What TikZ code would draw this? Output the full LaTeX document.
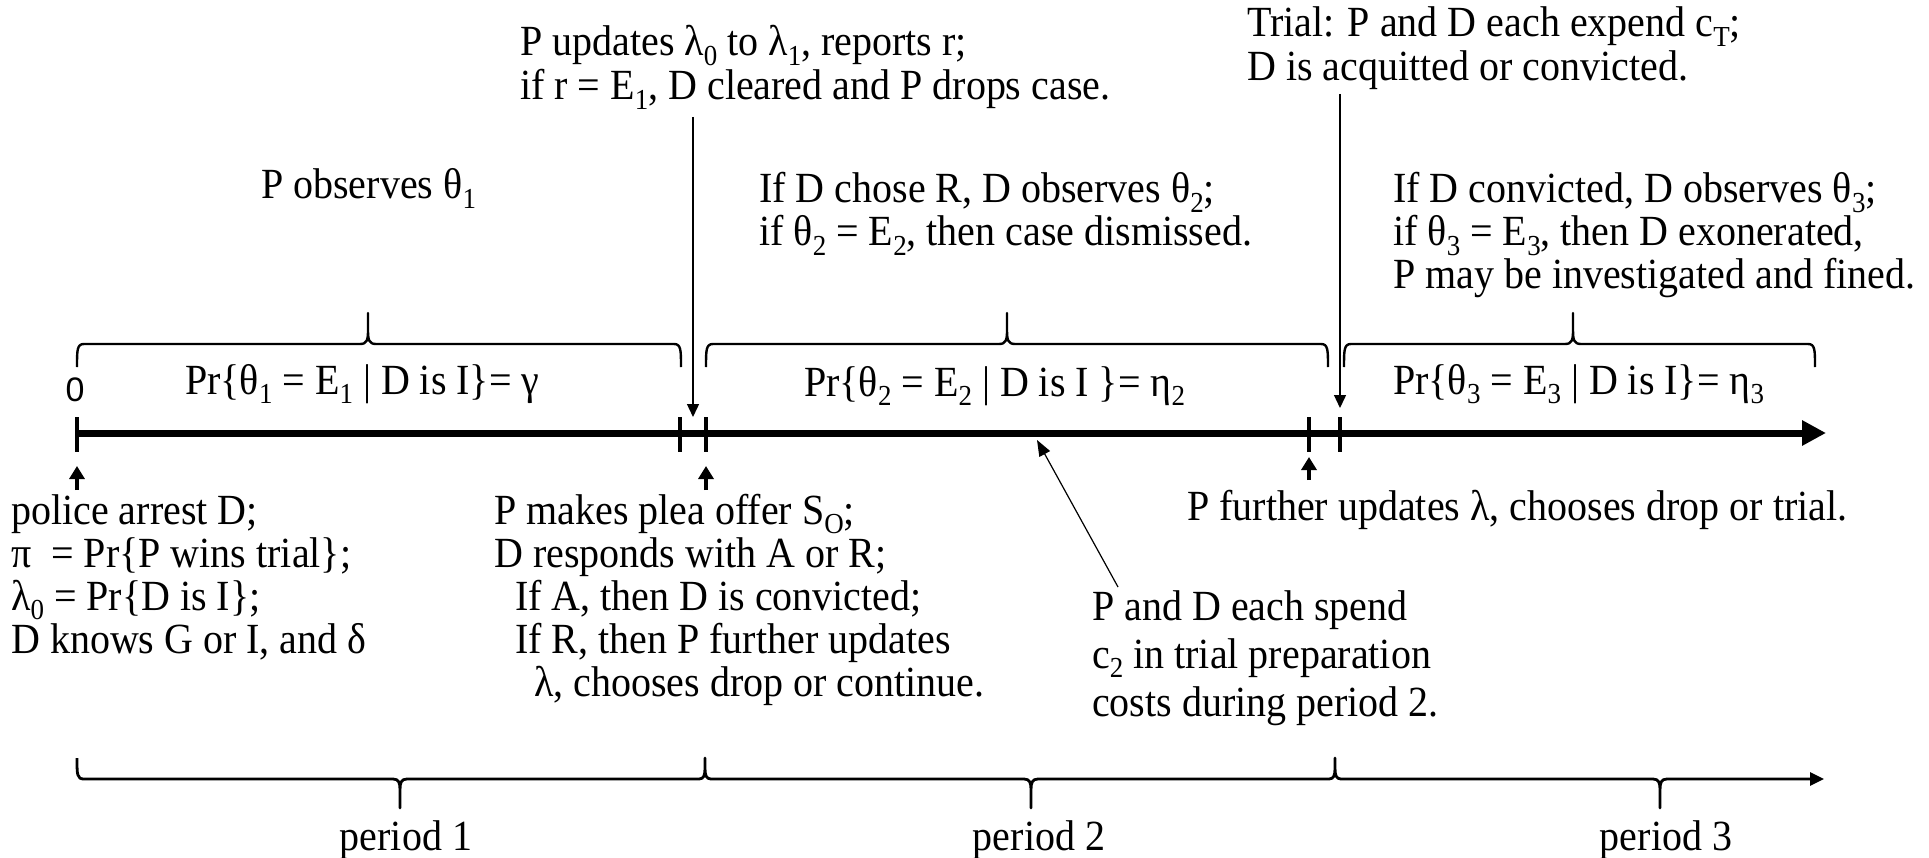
\documentclass[tikz,border=0pt]{standalone}
\usepackage{fontspec}
\setmainfont{Liberation Serif}[FakeStretch=0.93]
\newfontfamily\zerofont{Liberation Sans}
\usetikzlibrary{arrows.meta}
\newcommand\sbs[1]{\raisebox{-0.22em}{\fontsize{29}{29}\selectfont #1}}
\newcommand\topbrace[3]{%
 \draw[brc] (#1,367) .. controls (#1,350) and (#1,344) .. (#1+7,344) -- (#2-8,344)
   .. controls (#2-1,344) and (#2,340) .. (#2,330) -- (#2,313) -- (#2,330)
   .. controls (#2,340) and (#2+1,344) .. (#2+8,344) -- (#3-7,344)
   .. controls (#3,344) and (#3,350) .. (#3,367);}
\begin{document}
\begin{tikzpicture}[x=1pt,y=-1pt,
  tx/.style={anchor=base west,inner sep=0pt,text height=28pt,text depth=8pt,font=\fontsize{43}{44}\selectfont},
  tc/.style={anchor=base,inner sep=0pt,text height=28pt,text depth=8pt,font=\fontsize{43}{44}\selectfont},
  mainaxis/.style={line width=7pt,-{Triangle[length=24pt,width=24pt]}},
  tickmark/.style={line width=4pt},
  brc/.style={line width=2.4pt,line join=round},
  dnarr/.style={line width=1.4pt,-{Triangle[length=13pt,width=12pt]}},
  uparr/.style={line width=4.5pt,-{Triangle[length=13pt,width=15pt]}},
  ptr/.style={line width=1.2pt,-{Triangle[length=16pt,width=12pt]}},
  paxis/.style={line width=2.8pt,line join=round,-{Triangle[length=14pt,width=13pt]}}]
\useasboundingbox (0,0) rectangle (1929,858);

% main axis
\coordinate (t0) at (77,433);
\coordinate (t1) at (680,433);
\coordinate (t2) at (706,433);
\coordinate (t3) at (1309,433);
\coordinate (t4) at (1340,433);
\coordinate (tend) at (1826,433);
\draw[mainaxis] (t0) -- (tend);
\foreach \p in {t0,t1,t2,t3,t4} \draw[tickmark] (\p) ++(0,-16) -- ++(0,35);

% top texts
\node[tx] (upd1) at (520,56) {P updates λ\sbs{0} to λ\sbs{1}, reports r;};
\node[tx] (upd2) at (520,100) {if r = E\sbs{1}, D cleared and P drops case.};
\node[tx] (tri1) at (1247,37) {Trial: P and D each expend c\sbs{T};};
\node[tx] (tri2) at (1247,81) {D is acquitted or convicted.};
\node[tx] (obs) at (261,199) {P observes θ\sbs{1}};
\node[tx] (ifd1) at (759,203) {If D chose R, D observes θ\sbs{2};};
\node[tx] (ifd2) at (759,246) {if θ\sbs{2} = E\sbs{2}, then case dismissed.};
\node[tx] (cv1) at (1393,203) {If D convicted, D observes θ\sbs{3};};
\node[tx] (cv2) at (1393,246) {if θ\sbs{3} = E\sbs{3}, then D exonerated,};
\node[tx] (cv3) at (1393,289) {P may be investigated and fined.};

% braces above axis
\topbrace{77}{368}{681}
\topbrace{706}{1007}{1328}
\topbrace{1344}{1573}{1815}

\node[anchor=base,inner sep=0pt,font=\zerofont\fontsize{34}{34}\selectfont] (zero) at (75,401) {0};
\node[tx] (pr1) at (185,394) {Pr\{θ\sbs{1} = E\sbs{1} | D is I\}= γ};
\node[tx] (pr2) at (804,396) {Pr\{θ\sbs{2} = E\sbs{2} | D is I \}= η\sbs{2}};
\node[tx] (pr3) at (1393,394) {Pr\{θ\sbs{3} = E\sbs{3} | D is I\}= η\sbs{3}};

% down arrows
\coordinate (a1s) at (693,117); \coordinate (a1e) at (693,417);
\coordinate (a2s) at (1340,94); \coordinate (a2e) at (1340,408);
\draw[dnarr] (a1s) -- (a1e);
\draw[dnarr] (a2s) -- (a2e);

% up arrows
\coordinate (u0s) at (77,490); \coordinate (u0e) at (77,466);
\coordinate (u1s) at (706,490); \coordinate (u1e) at (706,466);
\coordinate (u2s) at (1309,480); \coordinate (u2e) at (1309,457);
\draw[uparr] (u0s) -- (u0e);
\draw[uparr] (u1s) -- (u1e);
\draw[uparr] (u2s) -- (u2e);

% bottom texts
\node[tx] (pol1) at (11,524) {police arrest D;};
\node[tx] (pol2) at (11,567) {π\ \ = Pr\{P wins trial\};};
\node[tx] (pol3) at (11,610) {λ\sbs{0} = Pr\{D is I\};};
\node[tx] (pol4) at (11,653) {D knows G or I, and δ};
\node[tx] (ple1) at (494,524) {P makes plea offer S\sbs{O};};
\node[tx] (ple2) at (494,567) {D responds with A or R;};
\node[tx] (ple3) at (515,610) {If A, then D is convicted;};
\node[tx] (ple4) at (515,653) {If R, then P further updates};
\node[tx] (ple5) at (534,696) {λ, chooses drop or continue.};
\node[tx] (fur) at (1187,520) {P further updates λ, chooses drop or trial.};
\node[tx] (sp1) at (1092,620) {P and D each spend};
\node[tx] (sp2) at (1092,668) {c\sbs{2} in trial preparation};
\node[tx] (sp3) at (1092,716) {costs during period 2.};

% pointer to axis
\coordinate (ps) at (1118,587); \coordinate (pe) at (1037,440);
\draw[ptr] (ps) -- (pe);

% period brace with arrow
\draw[paxis] (77,758) .. controls (77,775) and (77,779) .. (84,779) -- (393,779)
  .. controls (399,779) and (400,783) .. (400,790) -- (400,808) -- (400,790)
  .. controls (400,783) and (401,779) .. (407,779) -- (699,779)
  .. controls (704,779) and (705,775) .. (705,768) -- (705,758) -- (705,768)
  .. controls (705,775) and (706,779) .. (711,779) -- (1024,779)
  .. controls (1030,779) and (1031,783) .. (1031,790) -- (1031,808) -- (1031,790)
  .. controls (1031,783) and (1032,779) .. (1038,779) -- (1329,779)
  .. controls (1334,779) and (1335,775) .. (1335,768) -- (1335,758) -- (1335,768)
  .. controls (1335,775) and (1336,779) .. (1341,779) -- (1653,779)
  .. controls (1659,779) and (1660,783) .. (1660,790) -- (1660,808) -- (1660,790)
  .. controls (1660,783) and (1661,779) .. (1667,779) -- (1824,779);
\node[tc] (per1) at (406,850) {period 1};
\node[tc] (per2) at (1039,850) {period 2};
\node[tc] (per3) at (1666,850) {period 3};
\end{tikzpicture}
\end{document}
